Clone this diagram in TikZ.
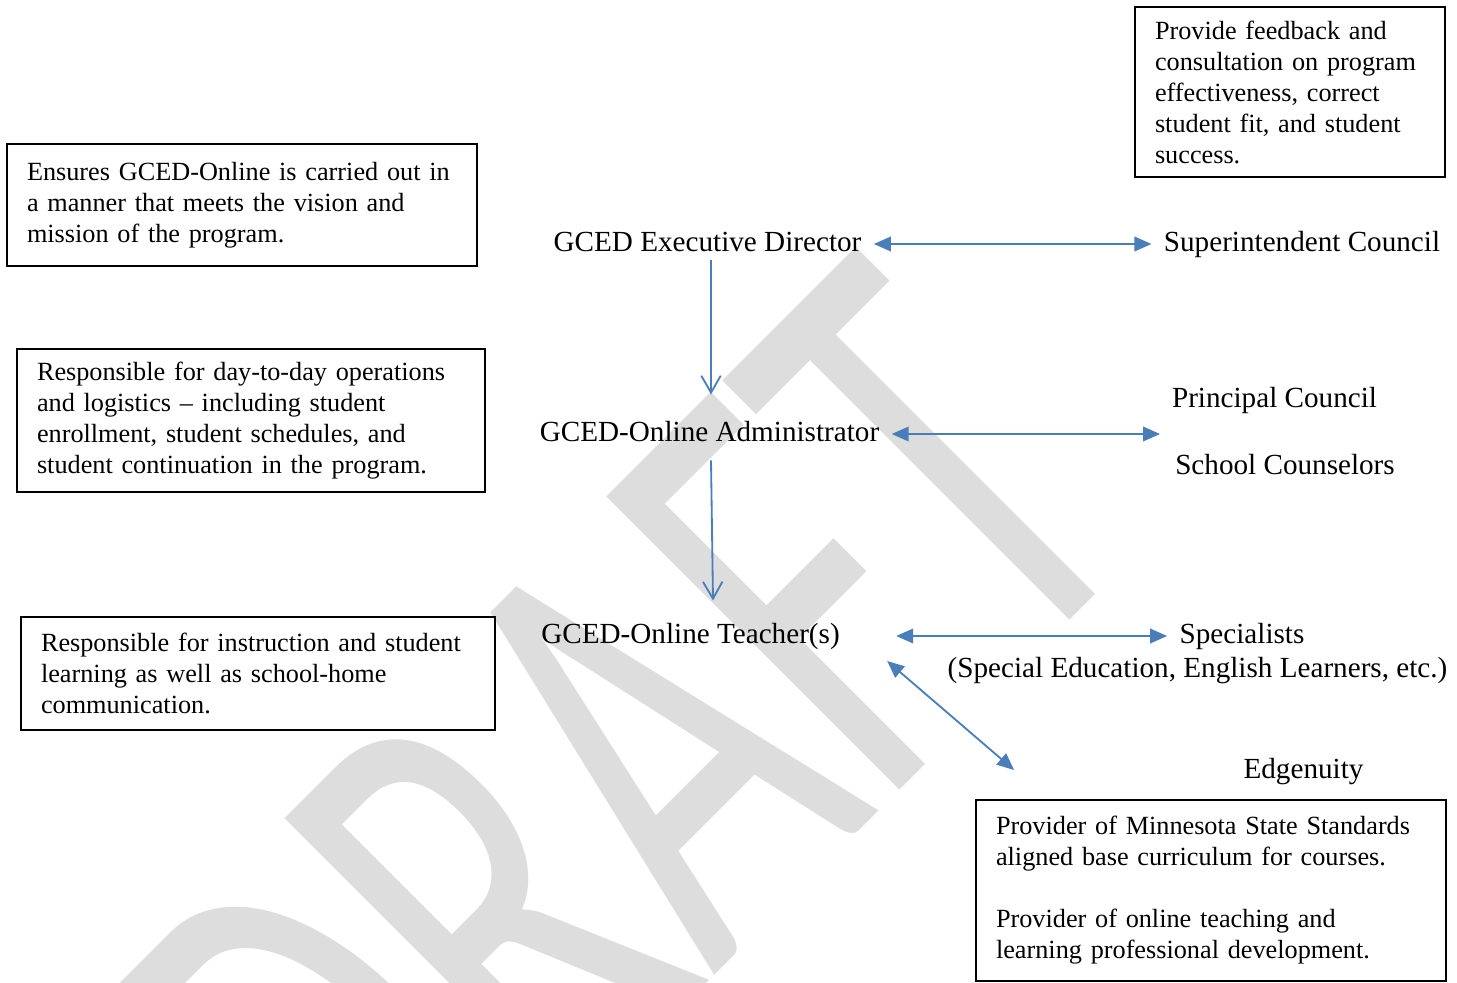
\documentclass[tikz,border=0pt]{standalone}
\usepackage{fontspec}
\setmainfont{Liberation Serif}
\newfontfamily\wmfont{Carlito}[Kerning=Off]
\usetikzlibrary{arrows.meta}
\newlength\pxu
\setlength\pxu{0.4115pt}
\definecolor{linkblue}{RGB}{74,126,187}
\definecolor{wmgray}{RGB}{221,221,221}

\begin{document}
\begin{tikzpicture}[
    x=0.4115pt, y=-0.4115pt,
    notebox/.style={rectangle, draw, line width=0.9pt, align=left, inner xsep=20\pxu, inner ysep=0pt, font=\fontsize{10.8}{12.76}\selectfont},
    rolelabel/.style={inner xsep=12\pxu, inner ysep=2pt, text height=8.4pt, text depth=2.4pt, font=\fontsize{12}{14}\selectfont},
    twoway/.style={{Triangle[length=7pt,width=6pt]}-{Triangle[length=7pt,width=6pt]}, linkblue, line width=0.75pt},
    oneway/.style={-{Straight Barb[length=7pt,width=8pt]}, linkblue, line width=0.75pt}
]
\useasboundingbox (0,0) rectangle (1457,982);
\clip (0,0) rectangle (1457,982);

\begin{scope}[shift={(380,1310)}, rotate=45, xscale=0.63]
\node[transform shape, anchor=base west, inner sep=0pt, text=wmgray, font=\wmfont\fontsize{266}{266}\selectfont] (draftmark) at (0,0) {DRAFT};
\end{scope}

\node[notebox, text width=270\pxu, minimum height=170\pxu] (councilnote) at (1290,92) {
    Provide feedback and\\
    consultation on program\\
    effectiveness, correct\\
    student fit, and student\\
    success.
};

\node[notebox, text width=430\pxu, minimum height=122\pxu] (execnote) at (242,205) {
    Ensures GCED-Online is carried out in\\
    a manner that meets the vision and\\
    mission of the program.
};

\node[notebox, text width=428\pxu, minimum height=143\pxu] (adminnote) at (251,420.5) {
    Responsible for day-to-day operations\\
    and logistics – including student\\
    enrollment, student schedules, and\\
    student continuation in the program.
};

\node[notebox, text width=434\pxu, minimum height=113\pxu] (teachnote) at (258,673.5) {
    Responsible for instruction and student\\
    learning as well as school-home\\
    communication.
};

\node[notebox, text width=430\pxu, minimum height=181\pxu] (vendornote) at (1211,890.5) {
    Provider of Minnesota State Standards\\
    aligned base curriculum for courses.\\[12.76pt]
    Provider of online teaching and\\
    learning professional development.
};

\node[rolelabel] (execdir) at (707.5,244) {GCED Executive Director};
\node[rolelabel] (supcouncil) at (1302,244) {Superintendent Council};
\node[rolelabel] (admin) at (709.5,434) {GCED-Online Administrator};
\node[rolelabel] (princ) at (1274.5,400) {Principal Council};
\node[rolelabel] (counsel) at (1285,467) {School Counselors};
\node[rolelabel] (teacher) at (690.5,636) {GCED-Online Teacher(s)};
\node[rolelabel] (spec) at (1242,636) {Specialists};
\node[rolelabel] (specdetail) at (1197.5,670) {(Special Education, English Learners, etc.)};
\node[rolelabel] (edgen) at (1303.5,771) {Edgenuity};
\coordinate (counciljoin) at (1160,434);

\draw[twoway] (execdir) -- (supcouncil);
\draw[twoway] (admin) -- (counciljoin);
\draw[twoway] ([shift={(44,0)}]teacher.east) -- (spec.west);
\draw[twoway] ([shift={(35,25)}]teacher.east) -- ([shift={(-217,-1)}]edgen.west);
\draw[oneway] ([shift={(3.5,-2)}]execdir.south) -- ([shift={(1.5,-21)}]admin.north);
\draw[oneway] ([shift={(1.5,8)}]admin.south) -- ([shift={(22.5,-17)}]teacher.north);

\end{tikzpicture}
\end{document}
